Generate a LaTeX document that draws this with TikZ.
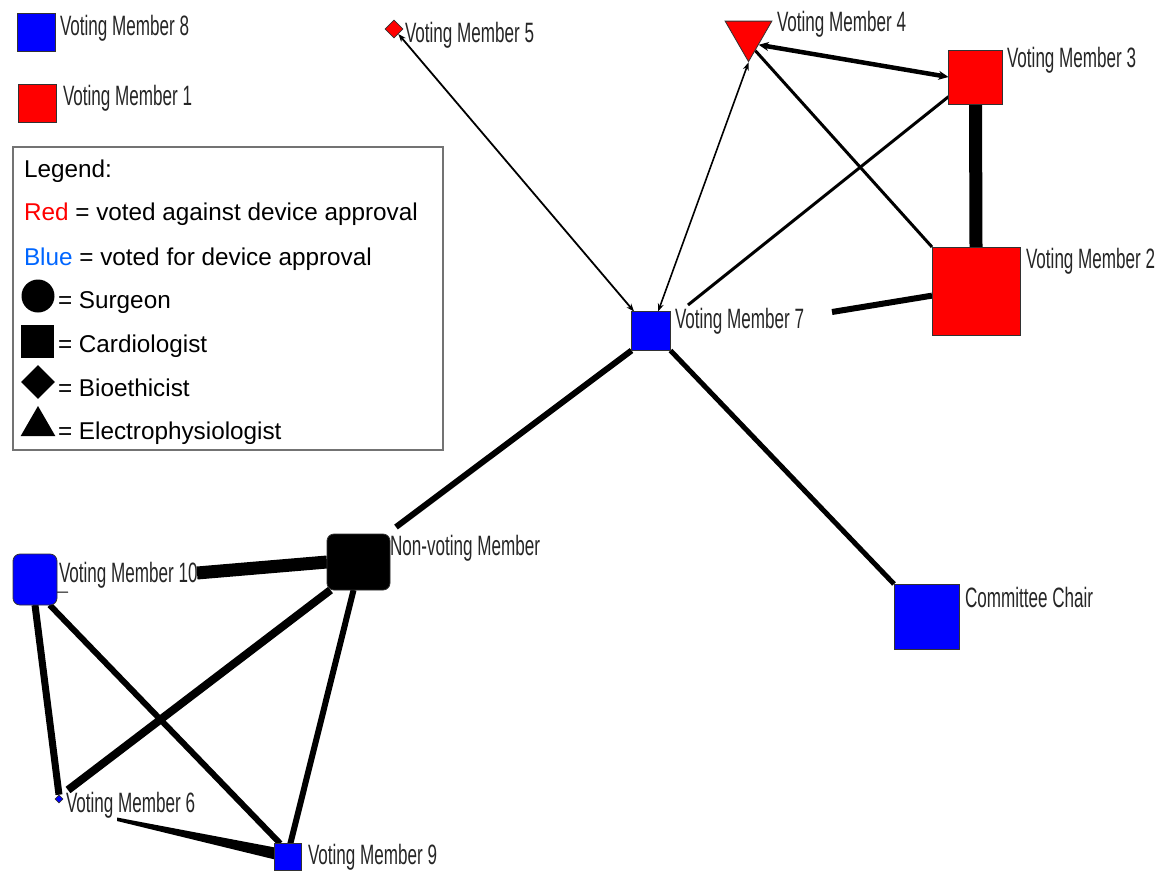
\documentclass[tikz,border=0pt]{standalone}
\usepackage{fontspec}
\setmainfont{Liberation Sans}
\newfontfamily\lblfam[FakeStretch=0.61]{Liberation Sans}
\usetikzlibrary{shapes.geometric,arrows.meta,calc}
\definecolor{vblue}{RGB}{0,0,255}
\definecolor{vred}{RGB}{255,0,0}
\definecolor{lblue}{RGB}{0,102,255}
\definecolor{outl}{RGB}{50,50,50}
\pgfdeclarelayer{bg}
\pgfdeclarelayer{back}
\pgfsetlayers{back,bg,main}
\begin{document}
\begin{tikzpicture}[x=1pt,y=-1pt,
  sqnode/.style={draw=outl, line width=0.8pt, inner sep=0pt, outer sep=0pt, minimum size=#1},
  rnode/.style={draw=outl, line width=0.8pt, inner sep=0pt, outer sep=0pt, rounded corners=7pt},
  lbl/.style={anchor=base west, inner sep=0pt, outer sep=0pt, text=black!85, font=\lblfam\fontsize{28}{30}\selectfont},
  leg/.style={anchor=base west, inner sep=0pt, outer sep=0pt, font=\fontsize{24.3}{28}\selectfont},
  conn/.style={draw=black, line width=#1, line cap=butt},
  tipB/.style={{Stealth[length=8pt,width=6pt]}-{Stealth[length=8pt,width=6pt]}},
  tipT/.style={{Stealth[length=10pt,width=9pt]}-{Stealth[length=10pt,width=9pt]}}
]
\useasboundingbox (0,0) rectangle (1173,871);
\begin{pgfonlayer}{back}
\fill[white] (0,0) rectangle (1173,871);
\end{pgfonlayer}

% ---- graph nodes ----
\node[sqnode=38, fill=vblue] (vm8) at (36,32) {};
\node[lbl] (vm8l) at (60,35) {Voting Member 8};
\node[sqnode=38, fill=vred] (vm1) at (37.5,103) {};
\node[lbl] (vm1l) at (63,105) {Voting Member 1};

\node[diamond, draw=outl, line width=0.8pt, fill=vred, inner sep=0pt, minimum width=18, minimum height=18] (vm5) at (394,29) {};
\node[lbl] (vm5l) at (405,42) {Voting Member 5};

\node[regular polygon, regular polygon sides=3, shape border rotate=180, draw=outl, line width=0.8pt, fill=vred, inner sep=0pt, minimum size=54] (vm4) at (748.5,34.6) {};
\node[lbl] (vm4l) at (777,31) {Voting Member 4};

\node[sqnode=54, fill=vred] (vm3) at (975.5,77) {};
\node[lbl] (vm3l) at (1007,67) {Voting Member 3};

\node[sqnode=88, fill=vred] (vm2) at (976,291) {};
\node[lbl] (vm2l) at (1026,268) {Voting Member 2};

\node[sqnode=39, fill=vblue] (vm7) at (651,331) {};
\node[lbl] (vm7l) at (675,328) {Voting Member 7};

\node[rnode, fill=black, minimum width=63, minimum height=56] (nv) at (358.5,562) {};
\node[lbl] (nvl) at (390,555) {Non-voting Member};

\node[rnode, fill=vblue, minimum width=44, minimum height=51] (vm10) at (35,579.5) {};
\node[lbl] (vm10l) at (59,582) {Voting Member 10};

\node[sqnode=65, fill=vblue] (chair) at (926.5,616.5) {};
\node[lbl] (chairl) at (965,607) {Committee Chair};

\node[diamond, draw=outl, line width=0.6pt, fill=vblue, inner sep=0pt, minimum width=8, minimum height=8] (vm6) at (59,799) {};
\node[lbl] (vm6l) at (66,812) {Voting Member 6};

\node[sqnode=27, fill=vblue] (vm9) at (288,857) {};
\node[lbl] (vm9l) at (308,864) {Voting Member 9};

% free ends of truncated connectors
\coordinate (c5) at (688,305);
\coordinate (c7) at (832,312);
\coordinate (c8) at (396,527);
\coordinate (c10) at (197,573);
\coordinate (c11) at (68,790);
\coordinate (c15a) at (117,817.5);
\coordinate (c15b) at (117,821);
\coordinate (c16) at (68,592);

% ---- connectors ----
\begin{pgfonlayer}{bg}
\draw[conn=1.8pt, tipB] (vm5.-49) -- (vm7.131);
\draw[conn=1.6pt, tipB] (vm4.south) -- (vm7.70);
\draw[conn=4.5pt, tipT] (vm4.-45) -- (vm3.west);
\draw[conn=3pt] (vm4.-67) -- (vm2.north west);
\draw[conn=3pt] (vm3.216) -- (c5);
\draw[conn=13pt] (vm3.south) -- (vm2.north);
\draw[conn=6pt] (vm2.186) -- (c7);
\draw[conn=6pt] (vm7.south west) -- (c8);
\draw[conn=5pt] (vm7.south east) -- (chair.north west);
\draw[conn=13pt] (c10) -- (nv.west);
\draw[conn=8pt] (nv.225) -- (c11);
\draw[conn=6pt] (nv.260) -- (vm9.80);
\draw[conn=7pt] (vm10.south) -- (vm6.north);
\draw[conn=6pt] (vm10.-60) -- (vm9.120);
\fill[black] (c15a) -- ($(vm9.165)+(0,-6)$) -- ($(vm9.165)+(0,6)$) -- (c15b) -- cycle;
\draw[line width=1pt] (vm10.-30) -- (c16);
\end{pgfonlayer}

% ---- legend ----
\draw[draw=black!55, line width=1.2pt] (13,147) rectangle (443,450);
\node[leg] (lg0) at (24,177) {Legend:};
\node[leg] (lg1) at (24,220) {\textcolor{vred}{Red} = voted against device approval};
\node[leg] (lg2) at (24,265) {\textcolor{lblue}{Blue} = voted for device approval};
\node[circle, fill=black, inner sep=0pt, minimum size=33] (lgc) at (38,296) {};
\node[leg] (lg3) at (58,308) {= Surgeon};
\node[rectangle, fill=black, inner sep=0pt, minimum size=33] (lgs) at (37.5,341.5) {};
\node[leg] (lg4) at (58,352) {= Cardiologist};
\node[diamond, fill=black, inner sep=0pt, minimum width=34, minimum height=34] (lgd) at (38,382) {};
\node[leg] (lg5) at (58,396) {= Bioethicist};
\node[regular polygon, regular polygon sides=3, fill=black, inner sep=0pt, minimum size=40] (lgt) at (38,426) {};
\node[leg] (lg6) at (58,439) {= Electrophysiologist};
\end{tikzpicture}
\end{document}
